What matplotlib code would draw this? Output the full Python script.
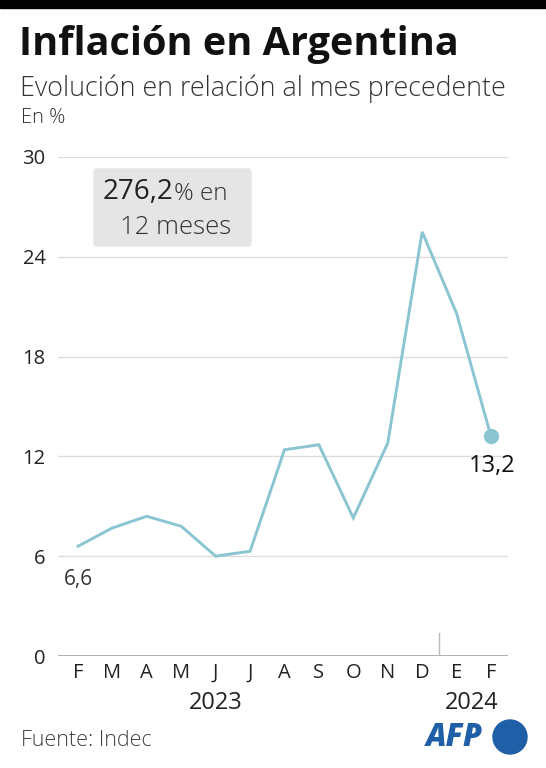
import matplotlib
matplotlib.use("Agg")
import matplotlib.pyplot as plt
from matplotlib.patches import FancyBboxPatch, Ellipse, Rectangle

months = ["F", "M", "A", "M", "J", "J", "A", "S", "O", "N", "D", "E", "F"]
values = [6.6, 7.7, 8.4, 7.8, 6.0, 6.3, 12.4, 12.7, 8.3, 12.8, 25.5, 20.6, 13.2]
yticks = [0, 6, 12, 18, 24, 30]
years = ["2023", "2024"]

FONT = ["Open Sans", "DejaVu Sans"]
plt.rcParams['font.family'] = FONT

W, H = 546, 768
fig = plt.figure(figsize=(W/100, H/100), dpi=100)

def fx(px): return px / W
def fy(py): return 1 - py / H

# top black bar
fig.patches.append(Rectangle((0, fy(8)), 1, 8/H, transform=fig.transFigure, color="black", zorder=5))

fig.text(fx(19), fy(45), "Inflación en Argentina", fontsize=28.5, fontweight="bold", va="center", ha="left", color="#111111")
fig.text(fx(20), fy(89), "Evolución en relación al mes precedente", fontsize=19.4, va="center", ha="left", color="#333333", fontweight="light")
fig.text(fx(21), fy(118), "En %", fontsize=14.5, va="center", ha="left", color="#333333", fontweight="light")

ax = fig.add_axes([fx(58), fy(656), fx(508) - fx(58), fy(157) - fy(656)])
x = list(range(len(values)))
ax.set_xlim(-20/34.4, 12 + 17/34.4)
ax.set_ylim(0, 30)
for t in yticks:
    ax.axhline(t, color="#aaaaaa" if t == 0 else "#dddddd", lw=1.3 if t == 0 else 1.0, zorder=1)
ax.plot(x, values, color="#8bc5d2", lw=2.1, zorder=3, solid_joinstyle="miter")
ax.plot([x[-1]], [values[-1]], "o", color="#8bc5d2", ms=10, zorder=4)
ax.plot([10.5, 10.5], [0, 1.4], color="#bbbbbb", lw=1.0, zorder=2)

for s in ax.spines.values():
    s.set_visible(False)
ax.set_xticks(x)
ax.set_xticklabels(months, fontsize=14.5, color="#222222")
ax.set_yticks(yticks)
ax.set_yticklabels([str(t) for t in yticks], fontsize=14.5, color="#222222")
ax.tick_params(length=0)
ax.tick_params(axis="x", pad=5)
ax.tick_params(axis="y", pad=9)
ax.set_facecolor("none")

ax.text(4.0, -2.85, years[0], fontsize=17, ha="center", va="center", color="#222222", clip_on=False)
ax.text(11.45, -2.85, years[1], fontsize=17, ha="center", va="center", color="#222222", clip_on=False)

ax.annotate("6,6", (x[0], values[0]), xytext=(0, -24), textcoords="offset points",
            ha="center", va="center", fontsize=15, color="#333333")
ax.annotate("13,2", (x[-1], values[-1]), xytext=(1, -21), textcoords="offset points",
            ha="center", va="center", fontsize=17, color="#111111")

# box
fig.patches.append(FancyBboxPatch((fx(94), fy(246)), fx(251) - fx(94), (246 - 169)/H,
                                  boxstyle="round,pad=0,rounding_size=0.005",
                                  transform=fig.transFigure, color="#e5e5e5", zorder=2))
t1 = fig.text(fx(103), fy(192), "276,2", fontsize=20, ha="left", va="center", color="#222222")
fig.canvas.draw()
bb = t1.get_window_extent()
fig.text(bb.x1 / fig.bbox.width, fy(194), "% en", fontsize=17.5, ha="left", va="center",
         color="#333333", fontweight="light")
fig.text(fx(176), fy(228), "12 meses", fontsize=18.5, ha="center", va="center", color="#333333", fontweight="light")

fig.text(fx(21), fy(740), "Fuente: Indec", fontsize=15.5, ha="left", va="center", color="#444444", fontweight="light")

# AFP logo
fig.text(fx(426), fy(738), "AFP", fontsize=22, fontweight="heavy", style="italic", ha="left", va="center", color="#1f5fa8")
fig.patches.append(Ellipse((fx(510), fy(737)), 34/W, 34/H, transform=fig.transFigure, color="#1f5fa8"))

fig.savefig("out.png", dpi=100)
